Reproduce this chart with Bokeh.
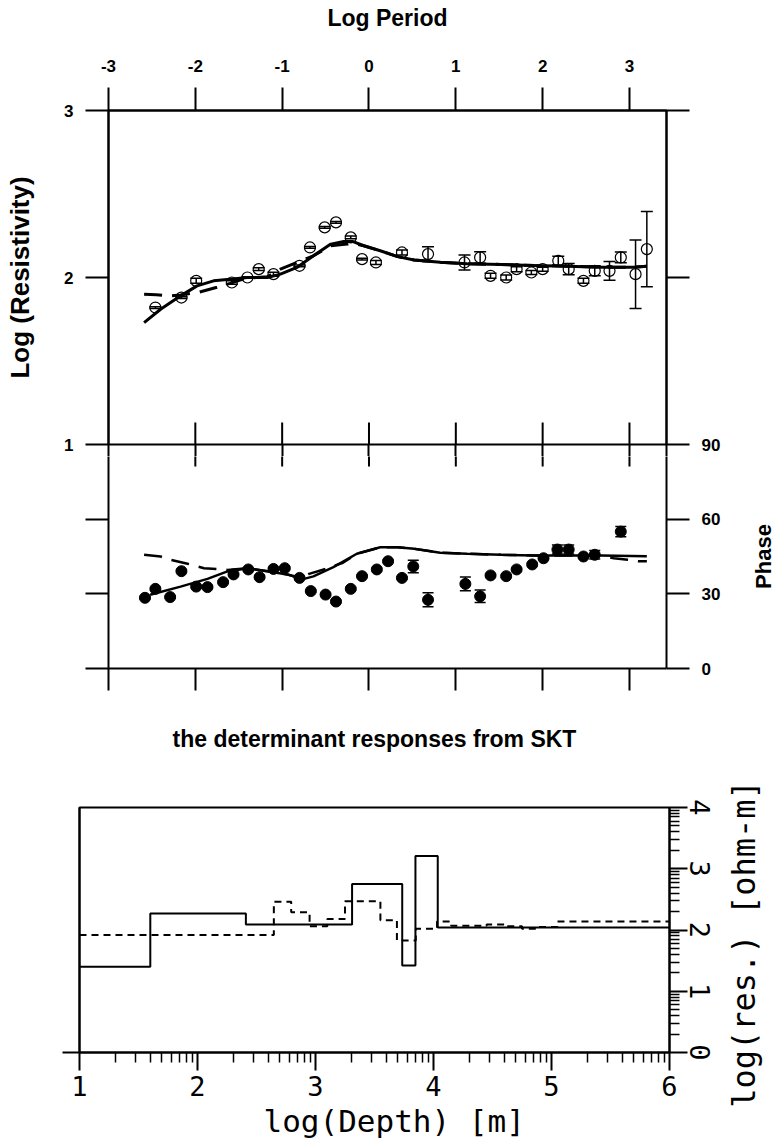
import math

from bokeh.embed import file_html
from bokeh.layouts import column, row
from bokeh.models import (ColumnDataSource, CustomJSTickFormatter, FixedTicker,
                          LinearAxis, Range1d, TeeHead, Title, Whisker)
from bokeh.plotting import figure
from bokeh.resources import INLINE

# ---------------------------------------------------------------- data
# apparent resistivity sounding: log10(period) vs log10(rho)
res_log_period = [-2.46, -2.16, -1.99, -1.58, -1.40, -1.27, -1.10, -0.80, -0.68, -0.51,
                  -0.38, -0.21, -0.08, 0.08, 0.38, 0.68, 1.10, 1.28, 1.40, 1.58,
                  1.70, 1.87, 2.00, 2.18, 2.30, 2.47, 2.60, 2.77, 2.90, 3.07, 3.20]
res_obs = [1.82, 1.88, 1.98, 1.97, 2.00, 2.05, 2.02, 2.07, 2.18, 2.30,
           2.33, 2.24, 2.11, 2.09, 2.15, 2.14, 2.09, 2.12, 2.01, 2.00,
           2.05, 2.03, 2.05, 2.10, 2.05, 1.98, 2.04, 2.04, 2.12, 2.02, 2.17]
res_err = [0.005, 0.005, 0.015, 0.010, 0.005, 0.008, 0.012, 0.005, 0.005, 0.005,
           0.005, 0.008, 0.005, 0.012, 0.015, 0.044, 0.045, 0.034, 0.015, 0.015,
           0.015, 0.012, 0.012, 0.027, 0.034, 0.015, 0.030, 0.056, 0.032, 0.205, 0.225]

# phase sounding (degrees)
phase_log_period = [-2.58, -2.46, -2.29, -2.16, -1.99, -1.86, -1.68, -1.56, -1.39, -1.26,
                    -1.10, -0.97, -0.80, -0.67, -0.50, -0.38, -0.21, -0.08, 0.09, 0.22,
                    0.38, 0.51, 0.68, 1.11, 1.28, 1.40, 1.58, 1.70, 1.88, 2.01,
                    2.17, 2.30, 2.47, 2.60, 2.90]
phase_obs = [28.4, 32.0, 28.7, 39.1, 32.9, 32.7, 34.7, 37.8, 39.8, 36.7,
             40.0, 40.3, 36.4, 31.1, 29.7, 26.9, 32.0, 37.1, 39.8, 43.1,
             36.4, 41.0, 27.6, 34.0, 29.0, 37.4, 37.1, 39.8, 41.8, 44.3,
             47.8, 47.8, 45.0, 45.7, 55.0]
phase_err = [0.5, 0.5, 0.5, 0.5, 0.5, 0.5, 0.5, 0.5, 0.5, 0.5,
             0.5, 0.5, 0.5, 0.5, 0.5, 0.5, 0.5, 0.5, 0.5, 0.5,
             0.5, 2.5, 2.8, 2.8, 2.5, 0.5, 0.5, 0.5, 0.5, 0.5,
             1.8, 1.8, 0.5, 1.7, 2.1]

# model responses (solid: final model, dashed: alternative model)
res_model_period = [-2.59, -2.40, -2.17, -1.98, -1.79, -1.60, -1.40, -1.17, -1.02, -0.83,
                    -0.64, -0.44, -0.29, -0.19, -0.06, 0.13, 0.33, 0.52, 0.82, 1.13,
                    1.52, 1.90, 2.28, 2.67, 3.05, 3.20]
res_model = [1.73, 1.81, 1.89, 1.95, 1.98, 1.99, 2.00, 2.00, 2.02, 2.06,
             2.13, 2.20, 2.216, 2.216, 2.19, 2.16, 2.125, 2.105, 2.092, 2.082,
             2.078, 2.072, 2.068, 2.062, 2.062, 2.068]
res_alt_period = [-2.59, -2.45, -2.30, -2.17, -2.05, -1.96, -1.75, -1.60, -1.45, -1.30,
                  -1.17, -1.02, -0.83, -0.64, -0.44, -0.25, -0.19, -0.06, 0.13, 0.33,
                  0.52, 0.82, 1.13, 1.52, 1.90, 2.28, 2.67, 3.05, 3.20]
res_alt = [1.90, 1.897, 1.89, 1.895, 1.905, 1.912, 1.942, 1.965, 1.99, 2.00,
           2.005, 2.05, 2.09, 2.13, 2.19, 2.20, 2.205, 2.19, 2.16, 2.125,
           2.105, 2.092, 2.082, 2.078, 2.072, 2.068, 2.062, 2.062, 2.068]
phase_model_period = [-2.52, -2.17, -1.86, -1.63, -1.40, -1.17, -0.94, -0.77, -0.64, -0.41,
                      -0.14, 0.13, 0.33, 0.52, 0.82, 1.13, 1.52, 1.90, 2.28, 2.67, 3.20]
phase_model = [29.6, 32.9, 36.0, 39.0, 40.3, 39.1, 37.8, 35.8, 37.0, 40.7,
               46.1, 48.7, 48.7, 48.1, 46.5, 46.1, 45.7, 45.4, 45.4, 45.4, 45.1]
phase_alt_period = [-2.59, -2.40, -2.29, -2.09, -1.90, -1.75, -1.63, -1.40, -1.17, -0.94,
                    -0.77, -0.69, -0.50, -0.30, -0.14, 0.13, 0.33, 0.52, 0.82, 1.13,
                    1.52, 1.90, 2.28, 2.67, 2.82, 2.98, 3.10, 3.20]
phase_alt = [45.7, 45.0, 43.7, 42.1, 40.3, 40.0, 39.6, 40.3, 39.1, 37.8,
             36.3, 38.0, 40.0, 42.5, 46.1, 48.7, 48.7, 48.1, 46.5, 46.1,
             45.7, 45.4, 45.4, 45.4, 44.3, 43.7, 43.1, 43.1]

# layered 1-D models: layer boundaries in log10(depth), log10(resistivity) per layer
model_depth = [1.0, 1.60, 2.41, 3.31, 3.735, 3.847, 4.036, 6.0]
model_log_res = [1.40, 2.27, 2.09, 2.75, 1.42, 3.21, 2.04]
alt_depth = [1.0, 2.647, 2.794, 2.95, 3.10, 3.25, 3.55, 3.69, 3.85, 4.03,
             4.15, 4.45, 4.60, 4.75, 4.88, 5.05, 6.0]
alt_log_res = [1.92, 2.46, 2.29, 2.06, 2.18, 2.47, 2.16, 1.83, 2.02, 2.14,
               2.07, 2.09, 2.06, 2.02, 2.05, 2.14]

# ticks
period_ticks = [-3, -2, -1, 0, 1, 2, 3]
res_ticks = [1, 2, 3]
phase_ticks = [0, 30, 60, 90]
depth_ticks = [1, 2, 3, 4, 5, 6]
model_res_ticks = [0, 1, 2, 3, 4]

# ---------------------------------------------------------------- layout constants
SANS = "Liberation Sans"
MONO = "DejaVu Sans Mono"
PX_PER_DEG = 224 / 90      # phase panel: 90 degrees over 224 px
PX_PER_DECADE = 167        # resistivity panel: one decade over 167 px
SEAM = 12                  # strip under the resistivity frame that holds the divider labels
PERIOD_MAX = 3.4264        # right edge of the sounding frames

INTEGER = CustomJSTickFormatter(code="return tick.toFixed(0)")


def style_axis(ax, tick_out, font=SANS, size="17px", bold=True, standoff=12, labels=True):
    ax.axis_line_width = 2
    ax.axis_line_color = "black"
    ax.major_tick_line_width = 2
    ax.major_tick_line_color = "black"
    ax.major_tick_in = 0
    ax.major_tick_out = tick_out
    ax.minor_tick_line_color = None
    ax.major_label_text_font = font
    ax.major_label_text_font_size = size
    ax.major_label_text_font_style = "bold" if bold else "normal"
    ax.major_label_text_color = "black" if labels else None
    ax.major_label_standoff = standoff if labels else 0
    ax.axis_label_text_color = "black"
    ax.axis_label_text_font = font
    ax.axis_label_text_font_style = "bold" if bold else "normal"


def make_panel(width=776, **kw):
    p = figure(width=width, output_backend="svg", toolbar_location=None,
               x_axis_location=None, y_axis_location=None, **kw)
    p.grid.visible = False
    p.outline_line_color = "black"
    p.outline_line_width = 2
    p.background_fill_color = "white"
    p.border_fill_color = "white"
    p.frame_align = False
    return p


def side_caption(width, height, text, font, size, bold, top, bottom, left, standoff):
    """Narrow strip whose bare left axis carries an upward-reading caption."""
    p = make_panel(width=width, height=height, x_range=Range1d(0, 1), y_range=Range1d(0, 1),
                   min_border_left=left, min_border_right=0, min_border_top=top,
                   min_border_bottom=bottom)
    p.outline_line_color = None
    ax = LinearAxis(ticker=FixedTicker(ticks=[]), axis_label=text)
    style_axis(ax, 0, font=font, bold=bold, labels=False)
    ax.axis_line_color = None
    ax.major_tick_line_color = None
    ax.axis_label_text_font_size = size
    ax.axis_label_standoff = standoff
    p.add_layout(ax, "left")
    return p


def whiskered(p, xs, ys, errs, head, **marker):
    src = ColumnDataSource(dict(x=xs, y=ys,
                                upper=[v + e for v, e in zip(ys, errs)],
                                lower=[v - e for v, e in zip(ys, errs)]))
    p.add_layout(Whisker(source=src, base="x", upper="upper", lower="lower",
                         line_color="black", line_width=1.5,
                         upper_head=TeeHead(size=head, line_width=1.5, line_color="black"),
                         lower_head=TeeHead(size=head, line_width=1.5, line_color="black")))
    p.scatter("x", "y", source=src, marker="circle", size=11, line_color="black", **marker)


period_range = Range1d(-3, PERIOD_MAX)
inner_ticks = [t for t in period_ticks if t > period_ticks[0]]

# ---------------------------------------------------------------- apparent resistivity
p_res = make_panel(height=110 + 2 * PX_PER_DECADE + SEAM, x_range=period_range,
                   y_range=Range1d(res_ticks[0], res_ticks[-1]),
                   min_border_left=108, min_border_right=110, min_border_top=110,
                   min_border_bottom=SEAM)

ax = LinearAxis(ticker=FixedTicker(ticks=period_ticks), formatter=INTEGER,
                axis_label="Log Period")
style_axis(ax, 23, standoff=16)
ax.axis_label_text_font_size = "23px"
ax.axis_label_standoff = 26
p_res.add_layout(ax, "above")

ax = LinearAxis(ticker=FixedTicker(ticks=res_ticks), formatter=INTEGER,
                axis_label="Log (Resistivity)")
style_axis(ax, 23, standoff=12)
ax.axis_label_text_font_size = "26px"
ax.axis_label_standoff = 26
p_res.add_layout(ax, "left")

# right side: the bottom tick is the 90-degree phase tick
ax = LinearAxis(ticker=FixedTicker(ticks=res_ticks),
                formatter=CustomJSTickFormatter(
                    args=dict(k=PX_PER_DECADE / PX_PER_DEG, top=phase_ticks[-1]),
                    code="const p = top + (tick - 1) * k; return p <= top + 0.5 ? p.toFixed(0) : ''"))
style_axis(ax, 23, standoff=12)
p_res.add_layout(ax, "right")

# ticks hanging below the divider (frame edges and crossing ticks)
ax = LinearAxis(ticker=FixedTicker(ticks=period_ticks + [PERIOD_MAX]))
style_axis(ax, SEAM, labels=False)
ax.axis_line_color = None
p_res.add_layout(ax, "below")

# upper halves of the ticks crossing the panel divider
p_res.scatter(x=inner_ticks, y=[res_ticks[0]] * len(inner_ticks), marker="dash",
              angle=math.pi / 2, size=44, line_width=2, line_color="black")

p_res.line(res_model_period, res_model, line_color="black", line_width=3)
p_res.line(res_alt_period, res_alt, line_color="black", line_width=3, line_dash="18 10")
whiskered(p_res, res_log_period, res_obs, res_err, 12, fill_color=None, line_width=1.2)

# ---------------------------------------------------------------- phase
ph_height = round(90 * PX_PER_DEG - SEAM) + 47
p_ph = make_panel(width=740, height=ph_height, x_range=period_range,
                  y_range=Range1d(0, phase_ticks[-1] - SEAM / PX_PER_DEG),
                  min_border_left=108, min_border_right=74, min_border_top=0,
                  min_border_bottom=47)
p_ph.outline_line_color = None

ax = LinearAxis(ticker=FixedTicker(ticks=period_ticks))
style_axis(ax, 22, labels=False)
p_ph.add_layout(ax, "below")

ax = LinearAxis(ticker=FixedTicker(ticks=phase_ticks[:-1]))
style_axis(ax, 23, labels=False)
p_ph.add_layout(ax, "left")

ax = LinearAxis(ticker=FixedTicker(ticks=phase_ticks[:-1]), formatter=INTEGER)
style_axis(ax, 23, standoff=12)
p_ph.add_layout(ax, "right")

# lower ends of the ticks crossing the panel divider
p_ph.scatter(x=inner_ticks, y=[phase_ticks[-1] - SEAM / PX_PER_DEG] * len(inner_ticks),
             marker="dash", angle=math.pi / 2, size=20, line_width=2, line_color="black")

p_ph.line(phase_model_period, phase_model, line_color="black", line_width=2.5)
p_ph.line(phase_alt_period, phase_alt, line_color="black", line_width=2.5, line_dash="18 10")
whiskered(p_ph, phase_log_period, phase_obs, phase_err, 11, fill_color="black")

ph_caption = side_caption(36, ph_height, "Phase", SANS, "22px", True,
                          top=0, bottom=59, left=30, standoff=-5)

# ---------------------------------------------------------------- layered model
p_mod = make_panel(width=721, height=432, x_range=Range1d(1, 6), y_range=Range1d(0, 4),
                   min_border_left=79, min_border_right=52, min_border_top=92,
                   min_border_bottom=95)

# heading carried by a bare top axis
ax = LinearAxis(ticker=FixedTicker(ticks=[]), axis_label="the determinant responses from SKT")
style_axis(ax, 0, labels=False)
ax.axis_line_color = None
ax.major_tick_line_color = None
ax.axis_label_text_font_size = "23px"
ax.axis_label_standoff = 56
p_mod.add_layout(ax, "above")

decade_minor = [math.log10(k) for k in range(2, 10)]
depth_minor = [d + m for d in depth_ticks[:-1] for m in decade_minor]
res_minor = [r + m for r in model_res_ticks[:-1] for m in decade_minor]

ax = LinearAxis(ticker=FixedTicker(ticks=depth_ticks, minor_ticks=depth_minor), formatter=INTEGER)
style_axis(ax, 18, font=MONO, size="27px", bold=False, standoff=5)
ax.minor_tick_line_color = "black"
ax.minor_tick_line_width = 1.5
ax.minor_tick_in = 0
ax.minor_tick_out = 10
p_mod.add_layout(ax, "below")
p_mod.add_layout(Title(text="log(Depth) [m]", align="left", offset=184, standoff=4,
                       text_font=MONO, text_font_size="31px", text_font_style="normal",
                       text_color="black"), "below")

ax = LinearAxis(ticker=FixedTicker(ticks=model_res_ticks, minor_ticks=res_minor),
                formatter=INTEGER)
style_axis(ax, 18, font=MONO, size="27px", bold=False, standoff=2)
ax.minor_tick_line_color = "black"
ax.minor_tick_line_width = 1.5
ax.minor_tick_in = 0
ax.minor_tick_out = 10
ax.major_label_orientation = "vertical"
p_mod.add_layout(ax, "right")

ax = LinearAxis(ticker=FixedTicker(ticks=model_res_ticks[:1]))
style_axis(ax, 17, labels=False)
p_mod.add_layout(ax, "left")

p_mod.step(model_depth, model_log_res + model_log_res[-1:], mode="after",
           line_color="black", line_width=2)
p_mod.step(alt_depth, alt_log_res + alt_log_res[-1:], mode="after",
           line_color="black", line_width=2, line_dash="7 5")

mod_caption = side_caption(55, 432, "log(res.) [ohm-m]", MONO, "32px", False,
                           top=105, bottom=80, left=29, standoff=-2)

layout = column(p_res,
                row(p_ph, ph_caption, spacing=0),
                row(p_mod, mod_caption, spacing=0),
                spacing=0)
open("out.html", "w").write(file_html(layout, INLINE))
